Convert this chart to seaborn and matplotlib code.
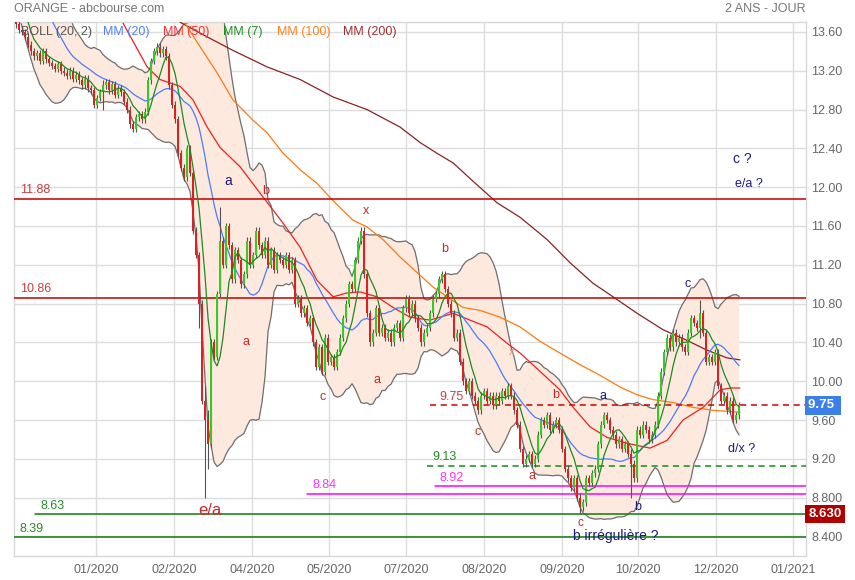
import numpy as np
import pandas as pd
import seaborn as sns
import matplotlib
matplotlib.use("Agg")
import matplotlib.pyplot as plt

# ---- data ----
# closes before the visible window (only used to seed MM7 / MM20 / BOLL)
prehistory = [14.60, 14.55, 14.62, 14.50, 14.58, 14.52, 14.48, 14.55, 14.45, 14.50,
              14.42, 14.48, 14.40, 14.45, 14.38, 14.35, 14.30, 14.25, 14.10, 13.90]

# daily closes of the visible window
closes = [
    13.68, 13.62, 13.60, 13.55, 13.47, 13.40, 13.35, 13.38, 13.30, 13.40,
    13.32, 13.28, 13.25, 13.22, 13.27, 13.20, 13.18, 13.15, 13.20, 13.12,
    13.16, 13.10, 13.05, 13.12, 13.02, 13.00, 12.85, 12.92, 12.98, 13.05,
    13.08, 13.00, 13.06, 12.95, 13.02, 12.98, 12.88, 12.80, 12.65, 12.60,
    12.72, 12.75, 12.70, 12.78, 13.10, 13.30, 13.40, 13.45, 13.38, 13.42,
    13.35, 13.05, 12.85, 12.70, 12.35, 12.20, 12.10, 12.40, 12.15, 11.55,
    11.30, 10.80, 9.80, 9.60, 9.35, 10.40, 10.25, 10.90, 11.45, 11.20,
    11.60, 11.40, 11.05, 11.35, 11.25, 11.00, 11.10, 11.45, 11.20, 11.30,
    11.55, 11.40, 11.30, 11.45, 11.20, 11.35, 11.15, 11.30, 11.25, 11.20,
    11.30, 11.15, 11.25, 10.80, 10.85, 10.70, 10.75, 10.60, 10.65, 10.40,
    10.15, 10.35, 10.10, 10.45, 10.20, 10.25, 10.15, 10.30, 10.45, 10.65,
    10.80, 11.00, 10.95, 11.25, 11.45, 11.55, 11.10, 10.70, 10.40, 10.50,
    10.75, 10.50, 10.55, 10.45, 10.50, 10.40, 10.55, 10.60, 10.45, 10.75,
    10.85, 10.70, 10.80, 10.65, 10.55, 10.40, 10.50, 10.55, 10.70, 10.85,
    10.90, 11.05, 11.10, 10.95, 10.80, 10.70, 10.45, 10.50, 10.20, 10.00,
    9.90, 10.00, 9.85, 9.80, 9.70, 9.85, 9.90, 9.80, 9.85, 9.75,
    9.85, 9.80, 9.90, 9.85, 9.95, 9.85, 9.70, 9.55, 9.30, 9.15,
    9.20, 9.25, 9.15, 9.20, 9.45, 9.60, 9.55, 9.65, 9.50, 9.55,
    9.60, 9.50, 9.30, 9.10, 9.00, 8.90, 9.00, 8.80, 8.70, 8.75,
    9.00, 8.95, 9.05, 9.10, 9.35, 9.55, 9.65, 9.60, 9.50, 9.45,
    9.35, 9.40, 9.30, 9.35, 9.25, 9.15, 9.00, 9.50, 9.45, 9.55,
    9.50, 9.40, 9.45, 9.55, 9.85, 10.10, 10.30, 10.45, 10.35, 10.50,
    10.40, 10.45, 10.35, 10.30, 10.50, 10.65, 10.60, 10.55, 10.70, 10.50,
    10.20, 10.25, 10.20, 10.30, 9.95, 9.80, 9.85, 9.70, 9.80, 9.60,
    9.65, 9.75,
]

# long wicks that stand out: bar -> (high, low)
spikes = {29: (13.10, 12.80), 61: (11.00, 10.55), 63: (9.95, 8.80),
          64: (9.70, 9.10), 68: (11.80, 11.10), 188: (8.85, 8.63),
          205: (9.30, 8.80), 228: (10.84, 10.45)}

# long moving averages, sampled along the drawn curves (bar index, value)
mm50_idx = [35.7, 43.7, 48, 54.7, 59, 63.7, 68, 74.7, 81.3, 89, 94.7, 100.3, 105.7,
            110.3, 114.7, 120.3, 125.7, 131.3, 138, 145.7, 151.3, 157, 163.7, 168,
            174.7, 181.3, 185.7, 191.3, 197, 203.7, 211.3, 217, 222.3, 229, 234.7,
            238, 241.3]
mm50_val = [13.69, 13.24, 13.11, 13.04, 12.90, 12.62, 12.41, 12.21, 11.94, 11.63,
            11.38, 11.04, 10.87, 10.91, 10.92, 10.87, 10.76, 10.66, 10.63, 10.70,
            10.63, 10.56, 10.39, 10.29, 10.10, 9.91, 9.73, 9.53, 9.42, 9.36, 9.31,
            9.39, 9.60, 9.73, 9.91, 9.93, 9.93]

mm100_idx = [56.3, 61.3, 67, 72.3, 79, 83.7, 89, 94.7, 100.3, 105.7, 112.3, 117,
             122.3, 128, 133.7, 139, 143.7, 149, 154.7, 161.3, 168, 174.7, 181.3,
             188, 194.7, 201.3, 207, 212.3, 219, 225.7, 232.3, 241.3]
mm100_val = [13.69, 13.45, 13.18, 12.90, 12.69, 12.56, 12.35, 12.18, 12.04, 11.86,
             11.66, 11.59, 11.46, 11.28, 11.12, 10.97, 10.87, 10.76, 10.73, 10.66,
             10.56, 10.41, 10.29, 10.17, 10.06, 9.94, 9.86, 9.81, 9.78, 9.73, 9.70,
             9.68]

mm200_idx = [54.7, 63.7, 72.3, 83.7, 94.7, 105.7, 117, 128, 134.7, 140.3, 145.7,
             151.3, 160.3, 168, 177, 184.7, 192.3, 199, 207, 215.7, 223.7, 230.3,
             237, 241.3]
mm200_val = [13.70, 13.55, 13.41, 13.24, 13.11, 12.93, 12.80, 12.62, 12.46, 12.35,
             12.25, 12.09, 11.84, 11.69, 11.46, 11.22, 11.01, 10.87, 10.70, 10.53,
             10.42, 10.32, 10.24, 10.22]

# x axis: gridlines every ~26 bars, labelled with the month
tick_idx = [26.7, 52.7, 78.7, 104.3, 130, 156, 182, 207.3, 233.3, 259]
tick_labels = ["01/2020", "02/2020", "04/2020", "05/2020", "07/2020",
               "08/2020", "09/2020", "10/2020", "12/2020", "01/2021"]
ytick_vals = [8.4, 8.8, 9.2, 9.6, 10.0, 10.4, 10.8, 11.2, 11.6, 12.0, 12.4, 12.8, 13.2, 13.6]
ytick_labels = ["8.400", "8.800", "9.20", "9.60", "10.00", "10.40", "10.80", "11.20",
                "11.60", "12.00", "12.40", "12.80", "13.20", "13.60"]

# support / resistance levels drawn by the analyst
levels = [11.88, 10.86, 9.75, 9.13, 8.92, 8.84, 8.63, 8.39]
level_colors = ["#c00000", "#c00000", "#d00000", "#109010", "#ff00ff", "#ff00ff", "#107a10", "#107a10"]
level_styles = ["-", "-", "--", "--", "-", "-", "-", "-"]
level_start = [0.0, 0.0, 0.525, 0.521, 0.532, 0.37, 0.027, 0.0]
level_label_x = [1.5, 1.5, 141, 138.7, 141, 98.7, 8, 1]
level_label_colors = ["#c84040", "#c84040", "#c84040", "#2a8a2a", "#ff33ff", "#ff33ff", "#2a8a2a", "#2a8a2a"]

# wave count labels (text, bar index, price, colour, size)
wave_labels = [
    ("a", 70.7, 12.06, "#1a1a80", 10), ("b", 83.3, 11.96, "#c82828", 9),
    ("x", 116.7, 11.75, "#c82828", 9), ("b", 143, 11.36, "#c82828", 9),
    ("a", 76.7, 10.40, "#c82828", 9), ("c", 102.3, 9.84, "#c82828", 9),
    ("a", 120.3, 10.01, "#c82828", 9), ("e/a", 64.7, 8.67, "#c82828", 12),
    ("c", 153.7, 9.48, "#c82828", 9), ("x", 165.3, 10.30, "#e89090", 8),
    ("b", 180, 9.86, "#c82828", 9), ("a", 195.7, 9.85, "#1a1a80", 9),
    ("a", 172, 9.02, "#c82828", 9), ("c", 224, 11.00, "#1a1a80", 9),
    ("c ?", 242, 12.29, "#1a1a80", 10), ("e/a ?", 244.3, 12.03, "#1a1a80", 9),
    ("d/x ?", 241.7, 9.30, "#1a1a80", 9), ("b", 207.3, 8.70, "#1a1a80", 9),
    ("c", 188, 8.54, "#c82828", 8.5), ("b irrégulière ?", 200, 8.40, "#1a1a80", 10),
]

legend_items = ["BOLL (20, 2)", "MM (20)", "MM (50)", "MM (7)", "MM (100)", "MM (200)"]
legend_x = [1.5, 29, 49, 69, 87, 109]
legend_colors = ["#555555", "#5080ff", "#ff3030", "#209020", "#ff8020", "#a03030"]

# ---- derived series ----
full = pd.Series(prehistory + closes, dtype=float)
n_pre = len(prehistory)
mm7 = full.rolling(7).mean().iloc[n_pre:].to_numpy()
mm20 = full.rolling(20).mean().iloc[n_pre:].to_numpy()
sd20 = full.rolling(20).std(ddof=0).iloc[n_pre:].to_numpy()
upper = mm20 + 2 * sd20
lower = mm20 - 2 * sd20

idx = np.arange(len(closes))
c = np.array(closes)
o = np.array([prehistory[-1]] + closes[:-1])
hi = np.maximum(o, c) + 0.035
lo = np.minimum(o, c) - 0.035
for k, (h, l) in spikes.items():
    hi[k] = max(hi[k], h)
    lo[k] = min(lo[k], l)

# ---- figure ----
sns.set_style("white")
plt.rcParams["font.family"] = ["Liberation Sans", "DejaVu Sans"]

fig = plt.figure(figsize=(8.55, 5.8), dpi=100)
ax = fig.add_axes([14 / 855, 1 - 556 / 580, 792 / 855, 534 / 580])

ax.set_xlim(-0.67, 263.3)
ax.set_ylim(8.198, 13.703)

# grid
for t in tick_idx:
    ax.axvline(t, color="#dddddd", lw=1, zorder=0)
for t in ytick_vals:
    ax.axhline(t, color="#dddddd", lw=1, zorder=0)

# bollinger band
ax.fill_between(idx, lower, upper, color="#fde9dd", lw=0, zorder=1)
sns.lineplot(x=idx, y=upper, ax=ax, color="#6e6e6e", lw=0.9, zorder=2)
sns.lineplot(x=idx, y=lower, ax=ax, color="#6e6e6e", lw=0.9, zorder=2)

# moving averages
sns.lineplot(x=mm200_idx, y=mm200_val, ax=ax, color="#8b2222", lw=0.9, zorder=3)
sns.lineplot(x=mm100_idx, y=mm100_val, ax=ax, color="#ff7a10", lw=0.9, zorder=3)
sns.lineplot(x=mm50_idx, y=mm50_val, ax=ax, color="#f02020", lw=0.9, zorder=3)
sns.lineplot(x=idx, y=mm20, ax=ax, color="#4a7cff", lw=0.9, zorder=3)

# level lines
for lv, col, ls, x0 in zip(levels, level_colors, level_styles, level_start):
    ax.axhline(lv, xmin=x0, xmax=1, color=col, ls=ls, lw=1.1, zorder=4,
               dashes=(4, 3) if ls == "--" else (None, None))
for lv, lx, col in zip(levels, level_label_x, level_label_colors):
    ax.text(lx, lv + 0.025, f"{lv:.2f}", color=col, fontsize=9, ha="left", va="bottom", zorder=6)

# candles
up = c >= o
ax.vlines(idx, lo, hi, color="#555555", lw=0.8, zorder=5)
body_lo = np.minimum(o, c)
body_h = np.maximum(np.abs(c - o), 0.012)
ax.bar(idx[up], body_h[up], bottom=body_lo[up], width=0.85, color="#33cc22", lw=0, zorder=5)
ax.bar(idx[~up], body_h[~up], bottom=body_lo[~up], width=0.85, color="#dd2020", lw=0, zorder=5)

sns.lineplot(x=idx, y=mm7, ax=ax, color="#1f8a1f", lw=0.9, zorder=5.5)

# wave labels
for txt, xi, yv, col, fs in wave_labels:
    ax.text(xi, yv, txt, color=col, fontsize=fs, ha="center", va="center", zorder=7)

# legend-like header inside the plot
for name, lx, col in zip(legend_items, legend_x, legend_colors):
    ax.text(lx, 13.60, name, color=col, fontsize=9, ha="left", va="center", zorder=7)

# axes styling
ax.yaxis.tick_right()
ax.set_yticks(ytick_vals, ytick_labels)
ax.set_xticks(tick_idx, tick_labels)
ax.tick_params(axis="both", length=0, labelsize=9, labelcolor="#666666")
ax.tick_params(axis="y", pad=4)
ax.tick_params(axis="x", pad=6)
for s in ax.spines.values():
    s.set_color("#d8d8d8")
    s.set_linewidth(1)
ax.set_xlabel("")
ax.set_ylabel("")

# last price / stop boxes on the right axis
ax.text(1.003, 9.75, "9.75 ", transform=ax.get_yaxis_transform(), color="white",
        fontsize=9.5, fontweight="bold", ha="left", va="center",
        bbox=dict(boxstyle="square,pad=0.25", fc="#3d7fe8", ec="none"), zorder=8)
ax.text(1.003, 8.63, "8.630", transform=ax.get_yaxis_transform(), color="white",
        fontsize=9.5, fontweight="bold", ha="left", va="center",
        bbox=dict(boxstyle="square,pad=0.25", fc="#b00000", ec="none"), zorder=8)

fig.text(14 / 855, 1 - 9 / 580, "ORANGE - abcbourse.com", color="#777777", fontsize=9,
         ha="left", va="center")
fig.text(806 / 855, 1 - 9 / 580, "2 ANS - JOUR", color="#777777", fontsize=9,
         ha="right", va="center")

fig.savefig("out.png", dpi=100, facecolor="white")
